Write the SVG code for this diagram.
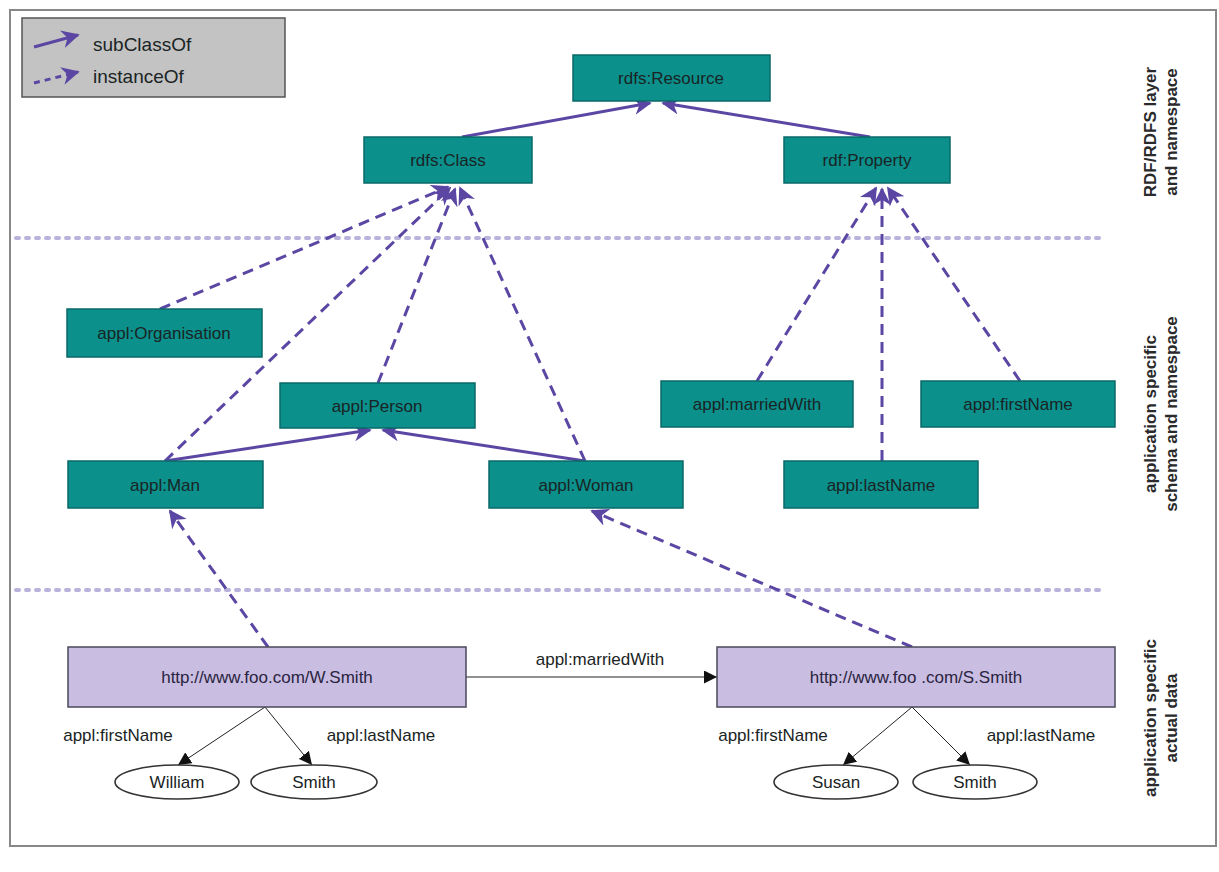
<svg xmlns="http://www.w3.org/2000/svg" width="1219" height="872" viewBox="0 0 1219 872">
<style>
.node rect{fill:#0b908c;stroke:#0a6a68;stroke-width:1.5}
.node text,.lbl{font-family:"Liberation Sans",Arial,sans-serif;font-size:17px;fill:#1a2424;text-anchor:middle}
.data rect{fill:#c9bde2;stroke:#4a4a5a;stroke-width:1.5}
.data text{fill:#2a2440}
.ell ellipse{fill:#fff;stroke:#333;stroke-width:1.6}
.sub{stroke:#5b47a3;stroke-width:3;fill:none}
.inst{stroke:#5b47a3;stroke-width:3;fill:none;stroke-dasharray:11 7}
.rel{stroke:#222;stroke-width:1;fill:none}
.sep{stroke:#b9b3dc;stroke-width:4;stroke-dasharray:3 7;stroke-linecap:round}
.side{font-family:"Liberation Sans",Arial,sans-serif;font-size:17px;font-weight:bold;fill:#2a2a2a;text-anchor:middle}
</style>
<defs>
<marker id="pa" viewBox="0 0 10 10" refX="9" refY="5" markerWidth="6" markerHeight="6" orient="auto" markerUnits="strokeWidth">
<path d="M0,0 L10,5 L0,10 L3,5 z" fill="#5b47a3"/>
</marker>
<marker id="ba" viewBox="0 0 10 10" refX="10" refY="5" markerWidth="13" markerHeight="13" orient="auto" markerUnits="userSpaceOnUse">
<path d="M0,0 L10,5 L0,10 z" fill="#111"/>
</marker>
</defs>
<rect x="0" y="0" width="1219" height="872" fill="#fff"/>
<rect x="10" y="10" width="1206" height="836" fill="#fff" stroke="#888" stroke-width="2"/>

<g id="separators">
<line class="sep" x1="16" y1="238" x2="1100" y2="238"/>
<line class="sep" x1="16" y1="590" x2="1100" y2="590"/>
</g>

<g id="legend">
<rect x="22" y="18" width="263" height="79" fill="#c3c3c3" stroke="#555" stroke-width="1.5"/>
<line class="sub" x1="34" y1="47" x2="78" y2="35" marker-end="url(#pa)"/>
<text class="lbl" x="93" y="51" style="text-anchor:start;font-size:19px">subClassOf</text>
<line class="inst" x1="34" y1="83" x2="78" y2="72" marker-end="url(#pa)" style="stroke-dasharray:6 5"/>
<text class="lbl" x="93" y="83" style="text-anchor:start;font-size:19px">instanceOf</text>
</g>

<g id="side-labels">
<text class="side" transform="translate(1156,132) rotate(-90)">RDF/RDFS layer</text>
<text class="side" transform="translate(1177,132) rotate(-90)">and namespace</text>
<text class="side" transform="translate(1156,414) rotate(-90)">application specific</text>
<text class="side" transform="translate(1177,414) rotate(-90)">schema and namespace</text>
<text class="side" transform="translate(1156,718) rotate(-90)">application specific</text>
<text class="side" transform="translate(1177,718) rotate(-90)">actual data</text>
</g>

<g id="connectors">
<line class="sub" x1="462" y1="137" x2="650" y2="103" marker-end="url(#pa)"/>
<line class="sub" x1="870" y1="137" x2="663" y2="103" marker-end="url(#pa)"/>
<line class="inst" x1="160" y1="309" x2="448" y2="187" marker-end="url(#pa)"/>
<line class="inst" x1="165" y1="461" x2="450" y2="188" marker-end="url(#pa)"/>
<line class="inst" x1="378" y1="383" x2="455" y2="189" marker-end="url(#pa)"/>
<line class="inst" x1="585" y1="461" x2="460" y2="188" marker-end="url(#pa)"/>
<line class="inst" x1="757" y1="381" x2="876" y2="188" marker-end="url(#pa)"/>
<line class="inst" x1="882" y1="461" x2="882" y2="189" marker-end="url(#pa)"/>
<line class="inst" x1="1020" y1="381" x2="888" y2="188" marker-end="url(#pa)"/>
<line class="sub" x1="165" y1="461" x2="370" y2="430" marker-end="url(#pa)"/>
<line class="sub" x1="585" y1="461" x2="383" y2="430" marker-end="url(#pa)"/>
<line class="inst" x1="268" y1="647" x2="170" y2="511" marker-end="url(#pa)"/>
<line class="inst" x1="912" y1="647" x2="592" y2="511" marker-end="url(#pa)"/>
<line class="rel" x1="466" y1="677" x2="717" y2="677" marker-end="url(#ba)"/>
<text class="lbl" x="600" y="665">appl:marriedWith</text>
<line class="rel" x1="265" y1="707" x2="178" y2="765" marker-end="url(#ba)"/>
<line class="rel" x1="265" y1="707" x2="312" y2="765" marker-end="url(#ba)"/>
<text class="lbl" x="118" y="741">appl:firstName</text>
<text class="lbl" x="381" y="741">appl:lastName</text>
<line class="rel" x1="912" y1="707" x2="843" y2="765" marker-end="url(#ba)"/>
<line class="rel" x1="912" y1="707" x2="970" y2="765" marker-end="url(#ba)"/>
<text class="lbl" x="773" y="741">appl:firstName</text>
<text class="lbl" x="1041" y="741">appl:lastName</text>
</g>

<g id="rdfs-resource" class="node"><rect x="573" y="55" width="197" height="46"/><text x="671" y="84">rdfs:Resource</text></g>
<g id="rdfs-class" class="node"><rect x="364" y="137" width="168" height="46"/><text x="448" y="166">rdfs:Class</text></g>
<g id="rdf-property" class="node"><rect x="784" y="137" width="166" height="46"/><text x="867" y="166">rdf:Property</text></g>
<g id="appl-organisation" class="node"><rect x="67" y="309" width="195" height="48"/><text x="164" y="339">appl:Organisation</text></g>
<g id="appl-person" class="node"><rect x="280" y="383" width="195" height="45"/><text x="377" y="412">appl:Person</text></g>
<g id="appl-man" class="node"><rect x="68" y="461" width="195" height="47"/><text x="165" y="491">appl:Man</text></g>
<g id="appl-woman" class="node"><rect x="489" y="461" width="194" height="47"/><text x="586" y="491">appl:Woman</text></g>
<g id="appl-marriedwith" class="node"><rect x="661" y="381" width="192" height="46"/><text x="757" y="410">appl:marriedWith</text></g>
<g id="appl-firstname" class="node"><rect x="921" y="381" width="194" height="46"/><text x="1018" y="410">appl:firstName</text></g>
<g id="appl-lastname" class="node"><rect x="784" y="461" width="194" height="47"/><text x="881" y="491">appl:lastName</text></g>

<g id="w-smith" class="node data"><rect x="68" y="647" width="398" height="60"/><text x="267" y="683">http://www.foo.com/W.Smith</text></g>
<g id="s-smith" class="node data"><rect x="717" y="647" width="398" height="60"/><text x="916" y="683">http://www.foo .com/S.Smith</text></g>

<g id="william" class="node ell"><ellipse cx="177" cy="782" rx="62" ry="17"/><text x="177" y="788">William</text></g>
<g id="smith-w" class="node ell"><ellipse cx="314" cy="782" rx="63" ry="17"/><text x="314" y="788">Smith</text></g>
<g id="susan" class="node ell"><ellipse cx="836" cy="782" rx="62" ry="17"/><text x="836" y="788">Susan</text></g>
<g id="smith-s" class="node ell"><ellipse cx="975" cy="782" rx="62" ry="17"/><text x="975" y="788">Smith</text></g>
</svg>
